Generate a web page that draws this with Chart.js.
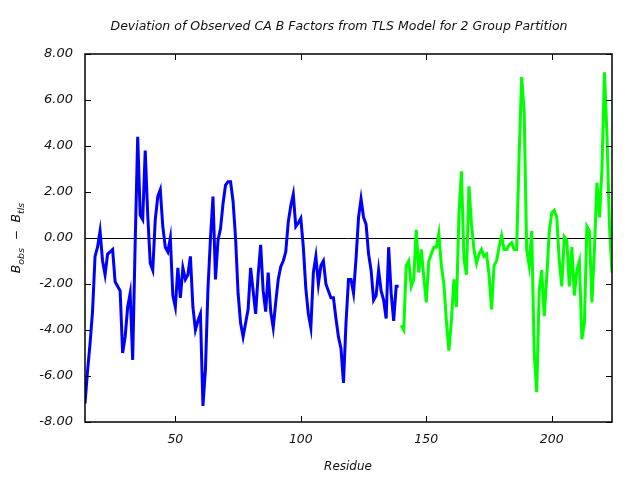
<!DOCTYPE html>
<html>
<head>
<meta charset="utf-8">
<script src="https://cdn.jsdelivr.net/npm/chart.js@4.4.1/dist/chart.umd.min.js"></script>
<style>
  html, body { margin: 0; padding: 0; background: #fff; }
  #wrap { width: 640px; height: 480px; }
</style>
</head>
<body>
<div id="wrap"><canvas id="chart" width="640" height="480"></canvas></div>
<script>
// chain A, residues 14-139 (group 1) and 140-224 (group 2)
const group1Start = 14;
const group1Values = [
  -7.2, -5.8, -4.6, -3.2, -0.8, -0.4, 0.3, -1.0, -1.6, -0.7,
  -0.6, -0.5, -1.9, -2.1, -2.3, -5.0, -4.3, -3.0, -2.4, -5.3,
  -0.2, 4.4, 1.0, 0.8, 3.8, 1.0, -1.1, -1.4, 0.8, 1.8,
  2.1, 0.5, -0.4, -0.6, 0.0, -2.5, -3.0, -1.3, -2.6, -1.3,
  -1.8, -1.6, -0.8, -3.0, -4.0, -3.6, -3.3, -7.3, -5.7, -2.2,
  0.0, 1.8, -1.8, -0.1, 0.4, 1.5, 2.3, 2.45, 2.45, 1.6,
  0.0, -2.4, -3.7, -4.3, -3.7, -3.1, -1.3, -2.3, -3.3, -1.6,
  -0.3, -2.3, -3.2, -1.5, -3.2, -3.9, -2.8, -1.8, -1.25, -1.0,
  -0.6, 0.7, 1.4, 1.9, 0.5, 0.65, 0.85, -0.4, -2.2, -3.3,
  -3.9, -1.5, -0.8, -2.0, -1.2, -1.0, -2.0, -2.3, -2.6, -2.6,
  -3.5, -4.3, -4.8, -6.3, -3.7, -1.8, -1.8, -2.4, -0.9, 0.9,
  1.7, 0.9, 0.6, -0.7, -1.4, -2.7, -2.5, -1.4, -2.3, -2.7,
  -3.5, -0.4, -2.4, -3.6, -2.1, -2.1
];
const group2Start = 140;
const group2Values = [
  -3.8, -4.0, -1.2, -1.0, -2.1, -1.8, 0.35, -1.5, -0.5, -1.7,
  -2.8, -1.0, -0.7, -0.4, -0.4, 0.2, -1.2, -2.0, -3.6, -4.9,
  -3.6, -1.8, -3.0, 1.0, 2.9, -0.9, -1.6, 2.25, 0.6, -0.5,
  -1.1, -0.7, -0.5, -0.8, -0.7, -1.6, -3.1, -1.2, -1.0, -0.4,
  0.1, -0.5, -0.5, -0.3, -0.2, -0.5, -0.5, 3.6, 7.0, 5.5,
  -0.5, -1.2, 0.3, -5.0, -6.7, -2.3, -1.4, -3.4, -1.7, 0.3,
  1.1, 1.2, 0.9, -1.0, -2.1, 0.05, -0.1, -2.1, -0.4, -2.5,
  -1.4, -1.0, -4.4, -3.7, 0.5, 0.3, -2.8, -0.5, 2.4, 0.9,
  3.0, 7.2, 4.5, 0.5, -1.5
];
const xTicks = [50, 100, 150, 200];
const yTicks = [-8, -6, -4, -2, 0, 2, 4, 6, 8];

const toPoints = (start, values) => values.map((v, i) => ({ x: start + i, y: v }));

const FONT = '"DejaVu Sans", sans-serif';

// gnuplot-style frame: box, inward ticks on all sides, zero line
const framePlugin = {
  id: 'frame',
  beforeDatasetsDraw(chart) {
    const { ctx, chartArea: a, scales } = chart;
    ctx.save();
    ctx.strokeStyle = '#000';
    ctx.lineWidth = 1;
    const y0 = Math.round(scales.y.getPixelForValue(0)) + 0.5;
    ctx.beginPath();
    ctx.moveTo(a.left, y0);
    ctx.lineTo(a.right, y0);
    ctx.stroke();
    ctx.restore();
  },
  afterDatasetsDraw(chart) {
    const { ctx, chartArea: a, scales } = chart;
    ctx.save();
    ctx.strokeStyle = '#000';
    ctx.lineWidth = 1.5;
    ctx.strokeRect(a.left, a.top, a.right - a.left, a.bottom - a.top);
    ctx.lineWidth = 1;
    ctx.beginPath();
    xTicks.forEach((t) => {
      const px = Math.round(scales.x.getPixelForValue(t)) + 0.5;
      ctx.moveTo(px, a.bottom);
      ctx.lineTo(px, a.bottom - 6);
      ctx.moveTo(px, a.top);
      ctx.lineTo(px, a.top + 6);
    });
    yTicks.forEach((t) => {
      const py = Math.round(scales.y.getPixelForValue(t)) + 0.5;
      ctx.moveTo(a.left, py);
      ctx.lineTo(a.left + 6, py);
      ctx.moveTo(a.right, py);
      ctx.lineTo(a.right - 6, py);
    });
    ctx.stroke();
    ctx.restore();
  },
  afterDraw(chart) {
    const { ctx } = chart;
    ctx.save();
    ctx.fillStyle = '#111';
    ctx.textAlign = 'center';
    ctx.textBaseline = 'middle';
    ctx.font = 'italic 12.5px ' + FONT;
    ctx.fillText('Deviation of Observed CA B Factors from TLS Model for 2 Group Partition', 339, 27);
    ctx.font = 'italic 12px ' + FONT;
    ctx.fillText('Residue', 348, 467);

    // y title with subscripts, rotated
    ctx.translate(16, 238);
    ctx.rotate(-Math.PI / 2);
    const parts = [
      ['B', 12.5, 0], ['obs', 9.5, 4], ['  \u2212  ', 12, 0], ['B', 12.5, 0], ['tls', 9.5, 4]
    ];
    let w = 0;
    parts.forEach(([t, s]) => {
      ctx.font = 'italic ' + s + 'px ' + FONT;
      w += ctx.measureText(t).width;
    });
    let x = -w / 2;
    ctx.textAlign = 'left';
    ctx.textBaseline = 'alphabetic';
    parts.forEach(([t, s, dy]) => {
      ctx.font = 'italic ' + s + 'px ' + FONT;
      ctx.fillText(t, x, 4 + dy);
      x += ctx.measureText(t).width;
    });
    ctx.restore();
  }
};

const lineStyle = {
  borderWidth: 3,
  pointRadius: 0,
  tension: 0,
  borderCapStyle: 'butt'
};

new Chart(document.getElementById('chart'), {
  type: 'line',
  data: {
    datasets: [
      Object.assign({
        label: 'Group 1',
        data: toPoints(group1Start, group1Values),
        borderColor: '#0000ff'
      }, lineStyle),
      Object.assign({
        label: 'Group 2',
        data: toPoints(group2Start, group2Values),
        borderColor: '#00ff00'
      }, lineStyle)
    ]
  },
  options: {
    responsive: false,
    animation: false,
    events: [],
    layout: { padding: { top: 54, right: 28, left: 0, bottom: 0 } },
    plugins: {
      legend: { display: false },
      tooltip: { enabled: false },
      title: { display: false }
    },
    scales: {
      x: {
        type: 'linear',
        min: 14,
        max: 224,
        grid: { display: false, drawTicks: false },
        border: { display: false },
        afterBuildTicks: (axis) => { axis.ticks = xTicks.map((v) => ({ value: v })); },
        afterFit: (axis) => { axis.height = 58; },
        ticks: {
          padding: 10,
          color: '#111',
          font: { family: FONT, size: 12.5, style: 'italic' },
          maxRotation: 0
        }
      },
      y: {
        min: -8,
        max: 8,
        grid: { display: false, drawTicks: false },
        border: { display: false },
        afterBuildTicks: (axis) => { axis.ticks = yTicks.map((v) => ({ value: v })); },
        afterFit: (axis) => { axis.width = 85; },
        ticks: {
          padding: 12,
          color: '#111',
          font: { family: FONT, size: 13, style: 'italic' },
          callback: (v) => v.toFixed(2)
        }
      }
    }
  },
  plugins: [framePlugin]
});
</script>
</body>
</html>
